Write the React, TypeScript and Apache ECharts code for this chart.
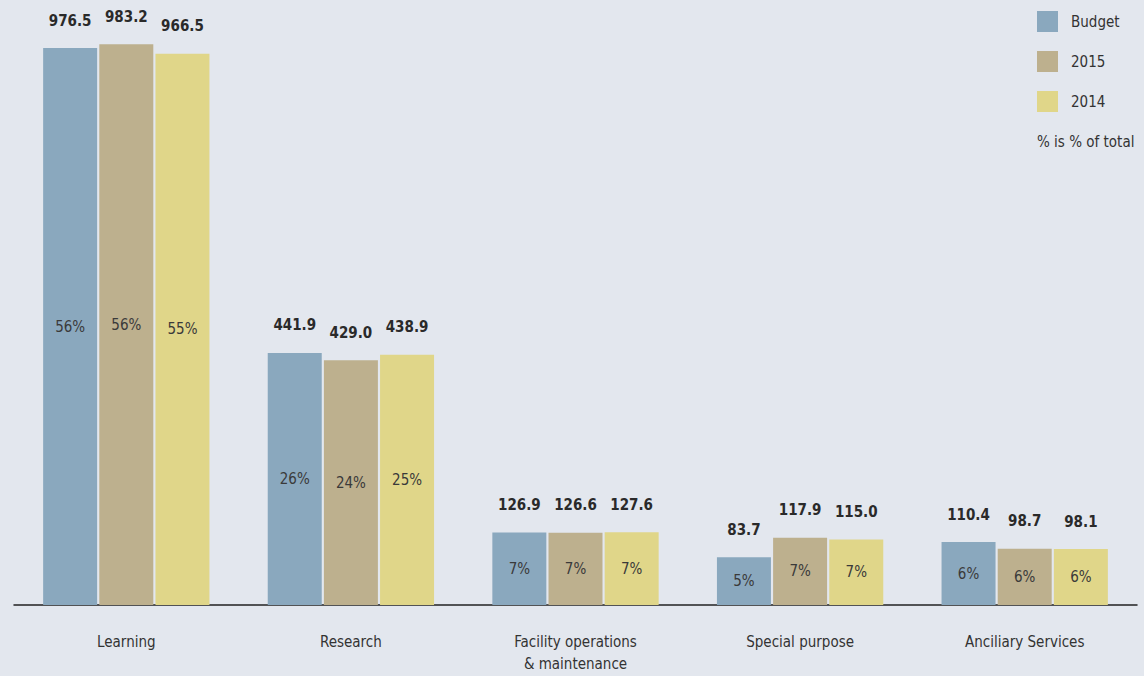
import React, { useEffect, useRef } from "react";
import * as echarts from "echarts";

const categories = ["Learning", "Research", "Facility operations\n& maintenance", "Special purpose", "Anciliary Services"];
const seriesNames = ["Budget", "2015", "2014"];
const budgetValues = [976.5, 441.9, 126.9, 83.7, 110.4];
const values2015 = [983.2, 429.0, 126.6, 117.9, 98.7];
const values2014 = [966.5, 438.9, 127.6, 115.0, 98.1];
const budgetPct = [56, 26, 7, 5, 6];
const pct2015 = [56, 24, 7, 7, 6];
const pct2014 = [55, 25, 7, 7, 6];
const colors = ["#8aa8be", "#bdb08e", "#e0d689"];
const noteText = "% is % of total";

const FONT = '"DejaVu Sans Condensed", "Liberation Sans Narrow", sans-serif';

export default function App() {
  const ref = useRef<HTMLDivElement>(null);
  useEffect(() => {
    document.body.style.margin = "0";
    const chart = echarts.init(ref.current!, null, { renderer: "svg" });
    const allValues = [budgetValues, values2015, values2014];
    const allPct = [budgetPct, pct2015, pct2014];
    const barCommon = {
      type: "bar",
      barWidth: 54,
      barGap: "4%",
      barCategoryGap: "26%",
    };
    const visible = seriesNames.map((name, i) => ({
      ...barCommon,
      name,
      xAxisIndex: 0,
      data: allValues[i].map((v, j) => ({ value: v, pct: allPct[i][j] })),
      itemStyle: { color: colors[i] },
      label: {
        show: true,
        position: "inside",
        formatter: (p: any) => p.data.pct + "%",
        fontFamily: FONT,
        fontSize: 15,
        color: "#3a3a3a",
      },
    }));
    const labelSeries = seriesNames.map((name, i) => ({
      ...barCommon,
      name: name + "-value",
      xAxisIndex: 1,
      data: allValues[i],
      itemStyle: { color: "rgba(0,0,0,0)" },
      silent: true,
      label: {
        show: true,
        position: "top",
        distance: 20,
        formatter: (p: any) => Number(p.value).toFixed(1),
        fontFamily: FONT,
        fontSize: 15,
        fontWeight: "bold",
        color: "#2a2a2a",
      },
    }));
    chart.setOption({
      animation: false,
      backgroundColor: "#e3e7ee",
      grid: { left: 14, right: 7, top: 34.6, bottom: 71, containLabel: false, outerBoundsMode: "none" },
      legend: {
        data: seriesNames,
        orient: "vertical",
        left: 1037,
        top: 11,
        padding: 0,
        itemWidth: 21,
        itemHeight: 21,
        itemGap: 19,
        icon: "rect",
        textStyle: { fontFamily: FONT, fontSize: 15, color: "#333", padding: [0, 0, 0, 8] },
      },
      graphic: [
        {
          type: "text",
          left: 1037,
          top: 134,
          style: { text: noteText, fontFamily: FONT, fontSize: 15, fill: "#333" },
        },
      ],
      xAxis: [
        {
          type: "category",
          data: categories,
          axisLine: { show: true, lineStyle: { color: "#222", width: 1.5 } },
          axisTick: { show: false },
          axisLabel: {
            margin: 26,
            fontFamily: FONT,
            fontSize: 15,
            lineHeight: 22,
            color: "#333",
          },
        },
        { type: "category", data: categories, show: false },
      ],
      yAxis: { type: "value", min: 0, max: 1000, show: false, splitLine: { show: false } },
      series: [...visible, ...labelSeries],
    });
    return () => chart.dispose();
  }, []);
  return <div ref={ref} style={{ width: 1144, height: 676 }} />;
}
